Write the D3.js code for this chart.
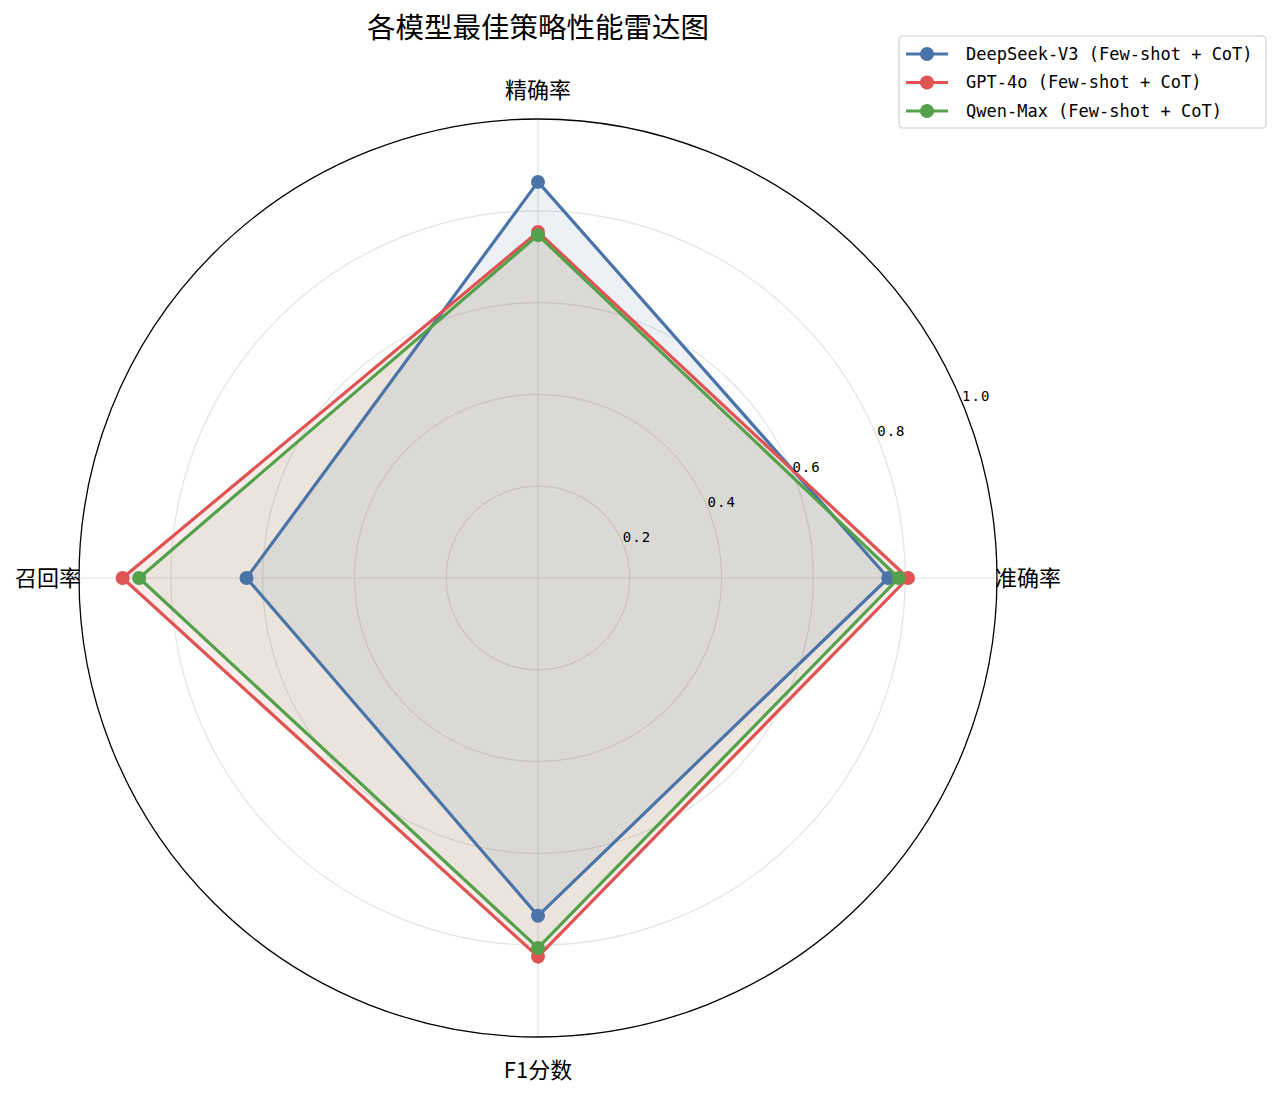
<!DOCTYPE html>
<html>
<head>
<meta charset="utf-8">
<script src="https://cdn.jsdelivr.net/npm/d3@7"></script>
<style>
  body { margin: 0; background: #fff; }
  text { font-family: "Noto Sans CJK SC", sans-serif; }
  .mono { font-family: "DejaVu Sans Mono", "Noto Sans CJK SC", monospace; }
</style>
</head>
<body>
<svg id="chart" width="1280" height="1093"></svg>
<script>
// axes clockwise from the right
const axes = ["准确率", "精确率", "召回率", "F1分数"]
const models = ["DeepSeek-V3 (Few-shot + CoT)", "GPT-4o (Few-shot + CoT)", "Qwen-Max (Few-shot + CoT)"]
const deepseek = [0.763, 0.863, 0.635, 0.736]
const gpt4o = [0.806, 0.754, 0.905, 0.825]
const qwen = [0.786, 0.747, 0.869, 0.806]
const ringTicks = [0.2, 0.4, 0.6, 0.8, 1.0]
const colors = ["#4a74a8", "#df5352", "#53a14a"]

const svg = d3.select("#chart"),
    width = +svg.attr("width"),
    height = +svg.attr("height");

const cx = 538, cy = 578, R = 459

const r = d3.scaleLinear().domain([0, 1]).range([0, R])
// angle 0 = east, counter-clockwise, like matplotlib polar
const angle = d3.scaleOrdinal().domain(axes).range(axes.map((d, i) => i * Math.PI / 2))

const g = svg.append("g").attr("transform", `translate(${cx},${cy})`)

// grid rings
g.selectAll("circle.ring")
  .data(ringTicks.slice(0, -1))
  .join("circle")
    .attr("r", d => r(d))
    .attr("fill", "none")
    .attr("stroke", "#e3e3e3")
    .attr("stroke-width", 1.2)

// spokes
g.selectAll("line.spoke")
  .data(axes)
  .join("line")
    .attr("x1", 0).attr("y1", 0)
    .attr("x2", d => r(1) * Math.cos(angle(d)))
    .attr("y2", d => -r(1) * Math.sin(angle(d)))
    .attr("stroke", "#e3e3e3")
    .attr("stroke-width", 1.2)

// outer frame
g.append("circle")
  .attr("r", r(1))
  .attr("fill", "none")
  .attr("stroke", "#000")
  .attr("stroke-width", 1.3)

const series = [deepseek, gpt4o, qwen]
const line = d3.lineRadial()
  .angle((d, i) => Math.PI / 2 - angle(axes[i]))
  .radius(d => r(d))
  .curve(d3.curveLinearClosed)

// fills
g.selectAll("path.area")
  .data(series)
  .join("path")
    .attr("d", line)
    .attr("fill", (d, i) => colors[i])
    .attr("fill-opacity", 0.1)
    .attr("stroke", "none")

// outlines + markers
series.forEach((vals, k) => {
  g.append("path")
    .attr("d", line(vals))
    .attr("fill", "none")
    .attr("stroke", colors[k])
    .attr("stroke-width", 3.2)
    .attr("stroke-linejoin", "round")
  g.selectAll(null)
    .data(vals)
    .join("circle")
      .attr("cx", (d, i) => r(d) * Math.cos(angle(axes[i])))
      .attr("cy", (d, i) => -r(d) * Math.sin(angle(axes[i])))
      .attr("r", 7)
      .attr("fill", colors[k])
})

// ring tick labels at 22.5 deg
const la = 22.5 * Math.PI / 180
g.selectAll("text.tick")
  .data(ringTicks)
  .join("text")
    .attr("class", "mono")
    .attr("x", d => r(d) * Math.cos(la))
    .attr("y", d => -r(d) * Math.sin(la) - 6)
    .attr("dy", "0.35em")
    .style("font-size", "14px")
    .style("letter-spacing", "1px")
    .text(d => d.toFixed(1))

// axis labels
const labelPos = [
  {x: 457, y: 0, anchor: "start"},
  {x: 0, y: -488, anchor: "middle"},
  {x: -457, y: 0, anchor: "end"},
  {x: 0, y: 492, anchor: "middle"}
]
g.selectAll("text.axis")
  .data(axes)
  .join("text")
    .attr("x", (d, i) => labelPos[i].x)
    .attr("y", (d, i) => labelPos[i].y)
    .attr("dy", "0.35em")
    .attr("text-anchor", (d, i) => labelPos[i].anchor)
    .style("font-size", "22px")
    .text(d => d)

// title
svg.append("text")
  .attr("x", cx)
  .attr("y", 28)
  .attr("dy", "0.35em")
  .attr("text-anchor", "middle")
  .style("font-size", "28.5px")
  .text("各模型最佳策略性能雷达图")

// legend
const lg = svg.append("g").attr("transform", "translate(899,36)")
lg.append("rect")
  .attr("width", 367).attr("height", 92)
  .attr("rx", 4)
  .attr("fill", "#fff")
  .attr("stroke", "#d0d0d0")
  .attr("stroke-width", 1.2)
const row = lg.selectAll("g.row")
  .data(models)
  .join("g")
    .attr("transform", (d, i) => `translate(0,${18 + i * 28.5})`)
row.append("line")
  .attr("x1", 7).attr("x2", 49)
  .attr("stroke", (d, i) => colors[i])
  .attr("stroke-width", 3.2)
row.append("circle")
  .attr("cx", 28).attr("r", 7)
  .attr("fill", (d, i) => colors[i])
row.append("text")
  .attr("class", "mono")
  .attr("x", 67)
  .attr("dy", "0.35em")
  .style("font-size", "17px")
  .text(d => d)
</script>
</body>
</html>
